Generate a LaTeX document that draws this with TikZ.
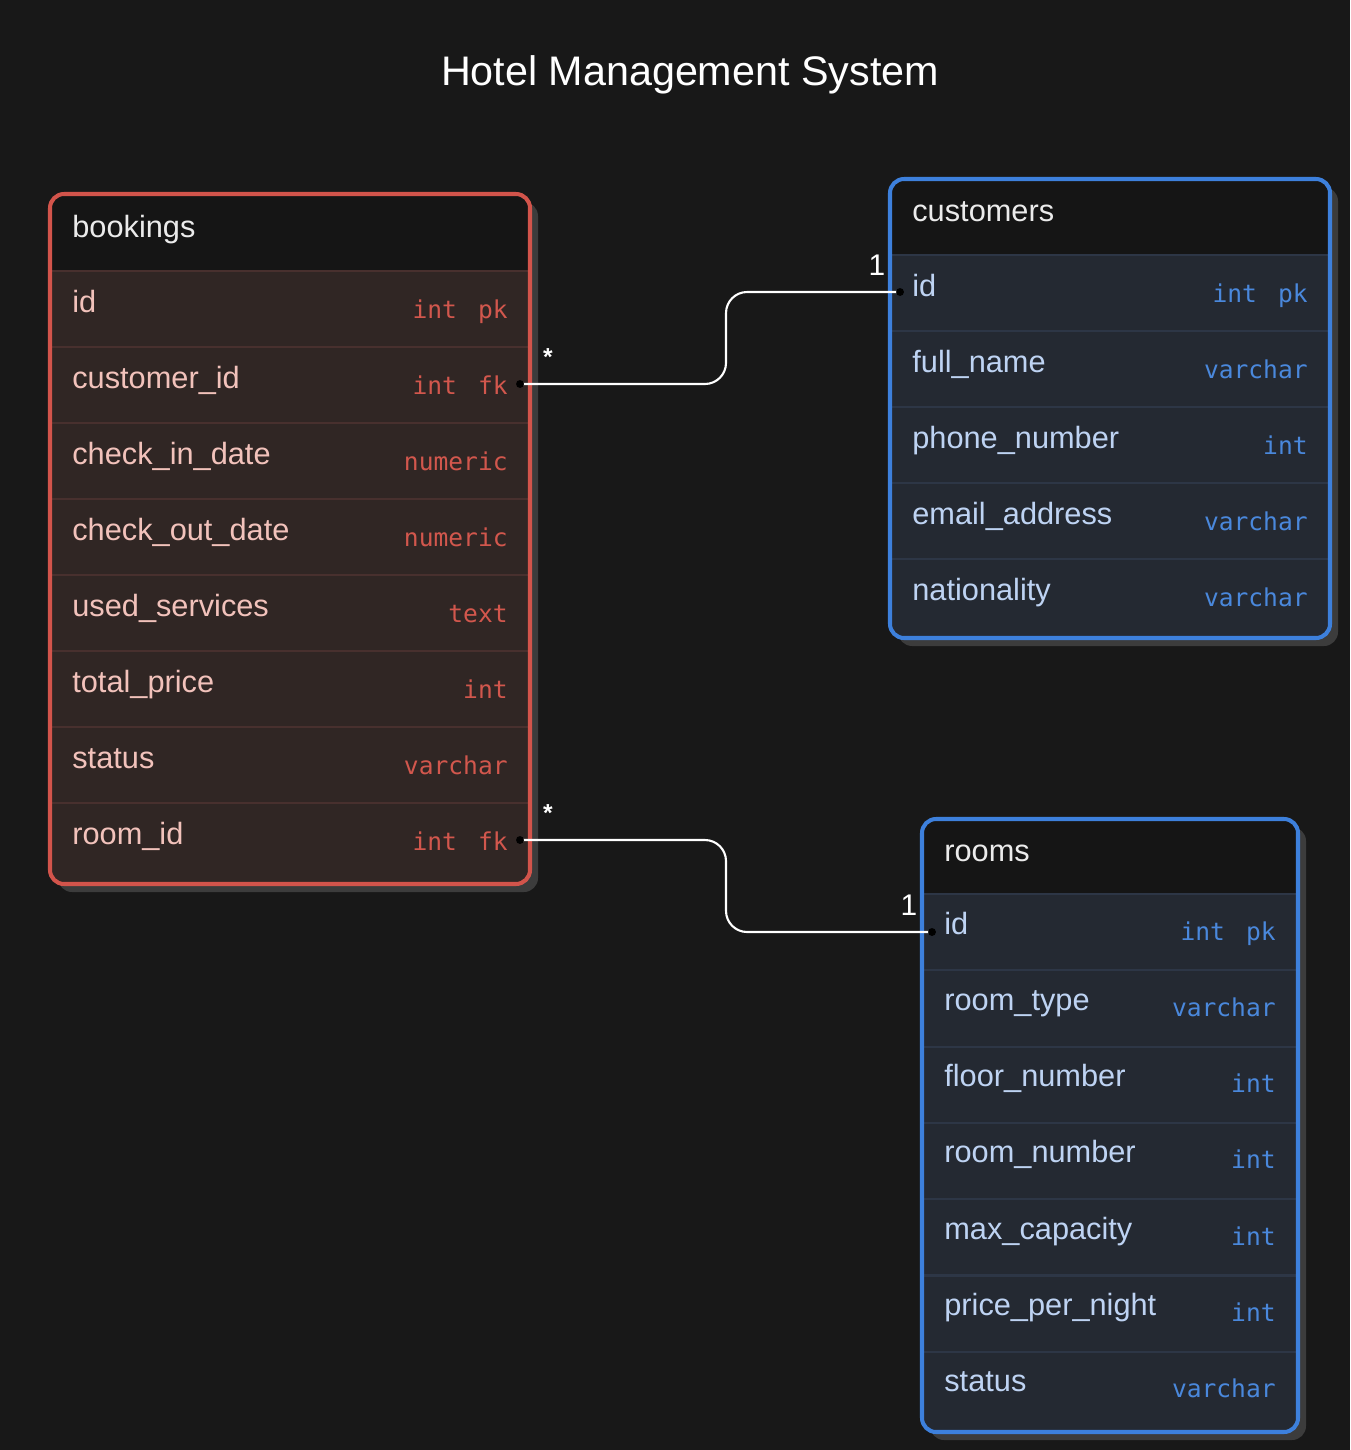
\documentclass[tikz,border=0pt]{standalone}
\usepackage{fontspec}
\setmainfont{Liberation Sans}
\newfontfamily\monofont{DejaVu Sans Mono}

\definecolor{bgcol}{HTML}{181818}
\definecolor{headcol}{HTML}{151515}
\definecolor{shadowcol}{HTML}{3C3C3C}
\definecolor{bkborder}{HTML}{D2544B}
\definecolor{bkfill}{HTML}{302624}
\definecolor{bksep}{HTML}{48302E}
\definecolor{bkname}{HTML}{F2C2BB}
\definecolor{bktype}{HTML}{D2574D}
\definecolor{blborder}{HTML}{3D80DC}
\definecolor{blfill}{HTML}{242932}
\definecolor{blsep}{HTML}{2D3646}
\definecolor{blname}{HTML}{BED3F3}
\definecolor{bltype}{HTML}{4A88DC}

\tikzset{
  tbltitle/.style={anchor=base west, text=white!92!black, font=\fontsize{17.5}{20}\selectfont, inner sep=0pt},
  fname/.style={anchor=base west, font=\fontsize{17.5}{20}\selectfont, inner sep=0pt},
  ftype/.style={anchor=base east, font=\monofont\fontsize{14}{16}\selectfont, inner sep=0pt},
  rel/.style={draw=white, line width=1.2pt, rounded corners=12},
  card/.style={text=white, inner sep=0pt},
  dot/.style={circle, fill=black, inner sep=0pt, minimum size=4.5pt},
}

\begin{document}
\begin{tikzpicture}[x=0.02cm, y=-0.02cm]
    \fill[bgcol] (0,0) rectangle (1350,1450);
    \useasboundingbox (0,0) rectangle (1350,1450);

    % Title
    \node[text=white, font=\fontsize{23.5}{26}\selectfont] (title) at (690,75) {Hotel Management System};

    % Bookings table
    \fill[shadowcol, rounded corners=8] (58,202) rectangle (538,892);
    \begin{scope}
        \clip[rounded corners=8] (50,194) rectangle (530,884);
        \fill[headcol] (50,194) rectangle (530,271);
        \fill[bkfill] (50,271) rectangle (530,884);
        \foreach \i in {0,...,7} \draw[bksep, line width=1.2pt] (50,{271+76*\i}) -- (530,{271+76*\i});
    \end{scope}
    \draw[bkborder, line width=2.3pt, rounded corners=8] (50,194) rectangle (530,884);
    \node[tbltitle] (bk) at (72,237) {bookings};
    \foreach \n/\t [count=\i] in {id/int\hspace{12pt}pk, customer\_id/int\hspace{12pt}fk, check\_in\_date/numeric,
        check\_out\_date/numeric, used\_services/text, total\_price/int, status/varchar, room\_id/int\hspace{12pt}fk} {
        \node[fname, text=bkname] (bk-\i) at (72,{272+76*(\i-1)+40}) {\n};
        \node[ftype, text=bktype] (bkt-\i) at (508,{272+76*(\i-1)+46}) {\t};
    }

    % Customers table
    \fill[shadowcol, rounded corners=8] (898,187) rectangle (1338,646);
    \begin{scope}
        \clip[rounded corners=8] (890,179) rectangle (1330,638);
        \fill[headcol] (890,179) rectangle (1330,255);
        \fill[blfill] (890,255) rectangle (1330,638);
        \foreach \i in {0,...,4} \draw[blsep, line width=1.2pt] (890,{255+76*\i}) -- (1330,{255+76*\i});
    \end{scope}
    \draw[blborder, line width=2.3pt, rounded corners=8] (890,179) rectangle (1330,638);
    \node[tbltitle] (cu) at (912,221) {customers};
    \foreach \n/\t [count=\i] in {id/int\hspace{12pt}pk, full\_name/varchar, phone\_number/int,
        email\_address/varchar, nationality/varchar} {
        \node[fname, text=blname] (cu-\i) at (912,{256+76*(\i-1)+40}) {\n};
        \node[ftype, text=bltype] (cut-\i) at (1308,{256+76*(\i-1)+46}) {\t};
    }

    % Rooms table
    \fill[shadowcol, rounded corners=8] (930,827) rectangle (1306,1440);
    \begin{scope}
        \clip[rounded corners=8] (922,819) rectangle (1298,1432);
        \fill[headcol] (922,819) rectangle (1298,894);
        \fill[blfill] (922,894) rectangle (1298,1432);
        \foreach \i in {0,...,6} \draw[blsep, line width=1.2pt] (922,{894+76.3*\i}) -- (1298,{894+76.3*\i});
    \end{scope}
    \draw[blborder, line width=2.3pt, rounded corners=8] (922,819) rectangle (1298,1432);
    \node[tbltitle] (ro) at (944,861) {rooms};
    \foreach \n/\t [count=\i] in {id/int\hspace{12pt}pk, room\_type/varchar, floor\_number/int,
        room\_number/int, max\_capacity/int, price\_per\_night/int, status/varchar} {
        \node[fname, text=blname] (ro-\i) at (944,{894+76.3*(\i-1)+40}) {\n};
        \node[ftype, text=bltype] (rot-\i) at (1276,{894+76.3*(\i-1)+46}) {\t};
    }

    % Relations
    \coordinate (bk-cust) at (520,384);
    \coordinate (bk-room) at (520,840);
    \coordinate (cu-key) at (900,292);
    \coordinate (ro-key) at (932,932);
    \draw[rel] (bk-cust) -- (726,384) -- (726,292) -- (cu-key);
    \draw[rel] (bk-room) -- (726,840) -- (726,932) -- (ro-key);
    \foreach \p in {bk-cust,bk-room,cu-key,ro-key} \node[dot] at (\p) {};

    \node[card, font=\bfseries\fontsize{14}{15}\selectfont] (m1) at (548,357) {*};
    \node[card, font=\bfseries\fontsize{14}{15}\selectfont] (m2) at (548,813) {*};
    \node[card, font=\fontsize{17}{18}\selectfont] (o1) at (877,265) {1};
    \node[card, font=\fontsize{17}{18}\selectfont] (o2) at (909,905) {1};
\end{tikzpicture}
\end{document}
